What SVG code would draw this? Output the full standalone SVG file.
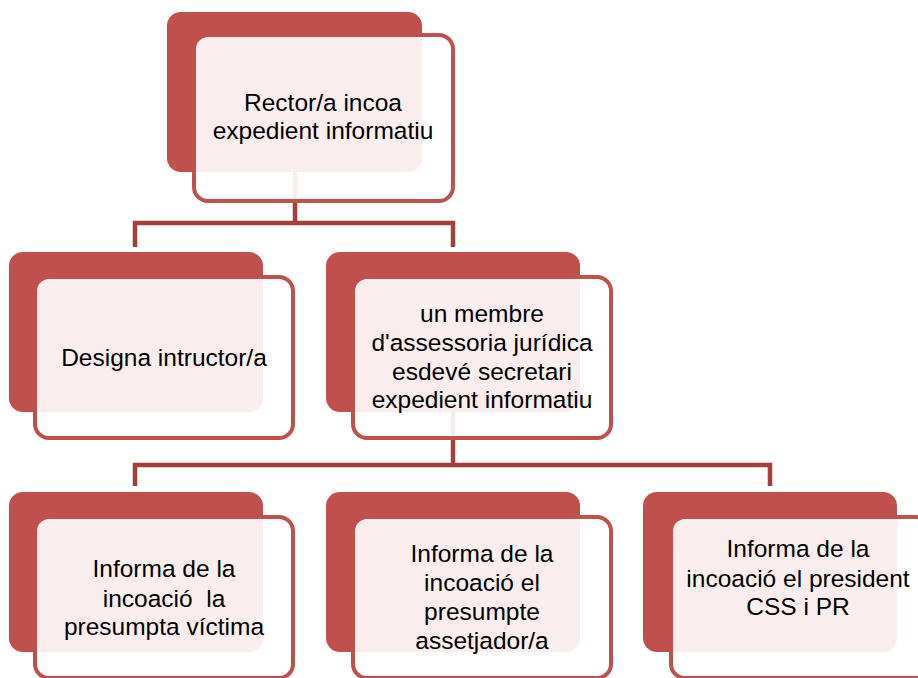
<svg xmlns="http://www.w3.org/2000/svg" width="918" height="678" viewBox="0 0 918 678">
<style>
.back{fill:#c0504d}
.front{fill:#ffffff;fill-opacity:0.9;stroke:#c0504d;stroke-width:4}
.conn{fill:none;stroke:#a3403d;stroke-width:4.5}
text{font-family:"Liberation Sans",Arial,sans-serif;font-size:24.5px;fill:#000;text-anchor:middle}
</style>
<rect width="918" height="678" fill="#ffffff"/>
<g id="connectors">
<path class="conn" d="M295,172 V223 M135,247 V223 H453 V247"/>
<path class="conn" d="M453,412 V465 M135,486 V465 H770 V486"/>
</g>
<g id="n1">
<rect class="back" x="167" y="12" width="255" height="160" rx="14"/>
<rect class="front" x="194" y="35" width="259" height="166" rx="14"/>
<text x="323" y="111">Rector/a incoa</text>
<text x="323" y="139">expedient informatiu</text>
</g>
<g id="n2">
<rect class="back" x="9" y="252" width="254" height="160" rx="14"/>
<rect class="front" x="35" y="277" width="258" height="161" rx="14"/>
<text x="164" y="366">Designa intructor/a</text>
</g>
<g id="n3">
<rect class="back" x="326" y="252" width="254" height="160" rx="14"/>
<rect class="front" x="353" y="277" width="258" height="161" rx="14"/>
<text x="482" y="322">un membre</text>
<text x="482" y="351">d'assessoria jurídica</text>
<text x="482" y="380">esdevé secretari</text>
<text x="482" y="408">expedient informatiu</text>
</g>
<g id="n4">
<rect class="back" x="9" y="492" width="254" height="160" rx="14"/>
<rect class="front" x="35" y="517" width="258" height="161" rx="14"/>
<text x="164" y="577">Informa de la</text>
<text x="164" y="607" xml:space="preserve">incoació  la</text>
<text x="164" y="635">presumpta víctima</text>
</g>
<g id="n5">
<rect class="back" x="326" y="492" width="254" height="160" rx="14"/>
<rect class="front" x="353" y="517" width="258" height="161" rx="14"/>
<text x="482" y="562">Informa de la</text>
<text x="482" y="591">incoació el</text>
<text x="482" y="620">presumpte</text>
<text x="482" y="649">assetjador/a</text>
</g>
<g id="n6">
<rect class="back" x="643" y="492" width="254" height="160" rx="14"/>
<rect class="front" x="671" y="517" width="258" height="161" rx="14"/>
<text x="798" y="557">Informa de la</text>
<text x="798" y="587">incoació el president</text>
<text x="798" y="615">CSS i PR</text>
</g>
</svg>
